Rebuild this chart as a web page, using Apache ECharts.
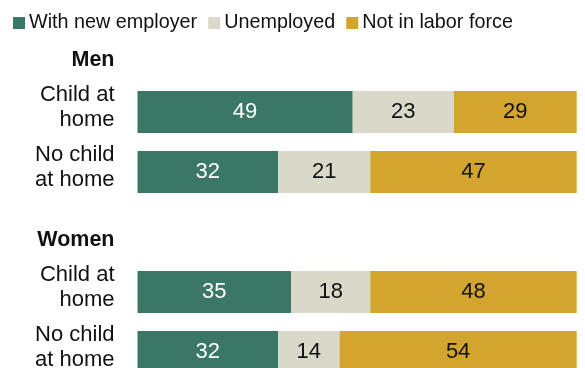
<!DOCTYPE html>
<html>
<head>
<meta charset="utf-8">
<script src="https://cdn.jsdelivr.net/npm/echarts@6/dist/echarts.min.js"></script>
<style>
  html, body { margin: 0; padding: 0; background: #fff; }
  #chart { width: 585px; height: 368px; }
</style>
</head>
<body>
<div id="chart"></div>
<script>
// Labor-force status after job loss, by sex and presence of a child at home (%)
const groups = ['Men', 'Women'];
const rowLabels = ['Child at\nhome', 'No child\nat home'];
const seriesNames = ['With new employer', 'Unemployed', 'Not in labor force'];
const withNewEmployer = [49, 32, 35, 32];
const unemployed = [23, 21, 18, 14];
const notInLaborForce = [29, 47, 48, 54];

const colors = ['#3a7767', '#dad8c9', '#d3a42e'];
const labelColors = ['#ffffff', '#111111', '#111111'];
const FONT = 'Liberation Sans';

// Category slots: a header slot for each group followed by its rows
const categories = [];
const isHeader = [];
groups.forEach(function (g) {
  categories.push('H:' + g); isHeader.push(true);
  rowLabels.forEach(function (r) { categories.push(g + ':' + r); isHeader.push(false); });
});

function expand(values) {
  const out = [];
  let k = 0;
  isHeader.forEach(function (h) { out.push(h ? '-' : values[k++]); });
  return out;
}

const allValues = [withNewEmployer, unemployed, notInLaborForce];

const chart = echarts.init(document.getElementById('chart'), null, { renderer: 'canvas' });
chart.setOption({
  animation: false,
  textStyle: { fontFamily: FONT },
  legend: {
    left: 8,
    top: 8,
    itemWidth: 12,
    itemHeight: 12,
    itemGap: 11,
    icon: 'rect',
    textStyle: { fontFamily: FONT, fontSize: 19.8, color: '#111', padding: [0, 0, 0, -1] },
    data: seriesNames
  },
  grid: { left: 137.5, right: 8.3, top: 22, height: 360, containLabel: false, outerBoundsMode: 'none' },
  xAxis: {
    type: 'value', min: 0, max: 100,
    show: false
  },
  yAxis: {
    type: 'category',
    inverse: true,
    data: categories,
    axisLine: { show: false },
    axisTick: { show: false },
    axisLabel: {
      margin: 23,
      color: '#111',
      align: 'right',
      fontFamily: FONT,
      fontSize: 22,
      lineHeight: 25,
      padding: [0, 0, 9, 0],
      formatter: function (v) {
        const i = v.indexOf(':');
        const txt = v.slice(i + 1);
        return v.slice(0, 2) === 'H:' ? '{hdr|' + txt + '}' : txt;
      },
      rich: {
        hdr: { fontFamily: FONT, fontSize: 21.5, fontWeight: 'bold', color: '#111', padding: [25, 0, 0, 0] }
      }
    }
  },
  series: seriesNames.map(function (name, s) {
    return {
      name: name,
      type: 'bar',
      stack: 'total',
      barWidth: 42,
      clip: true,
      itemStyle: { color: colors[s] },
      label: {
        show: true,
        position: 'inside',
        fontFamily: FONT,
        fontSize: 22,
        color: labelColors[s]
      },
      data: expand(allValues[s])
    };
  })
});
</script>
</body>
</html>
